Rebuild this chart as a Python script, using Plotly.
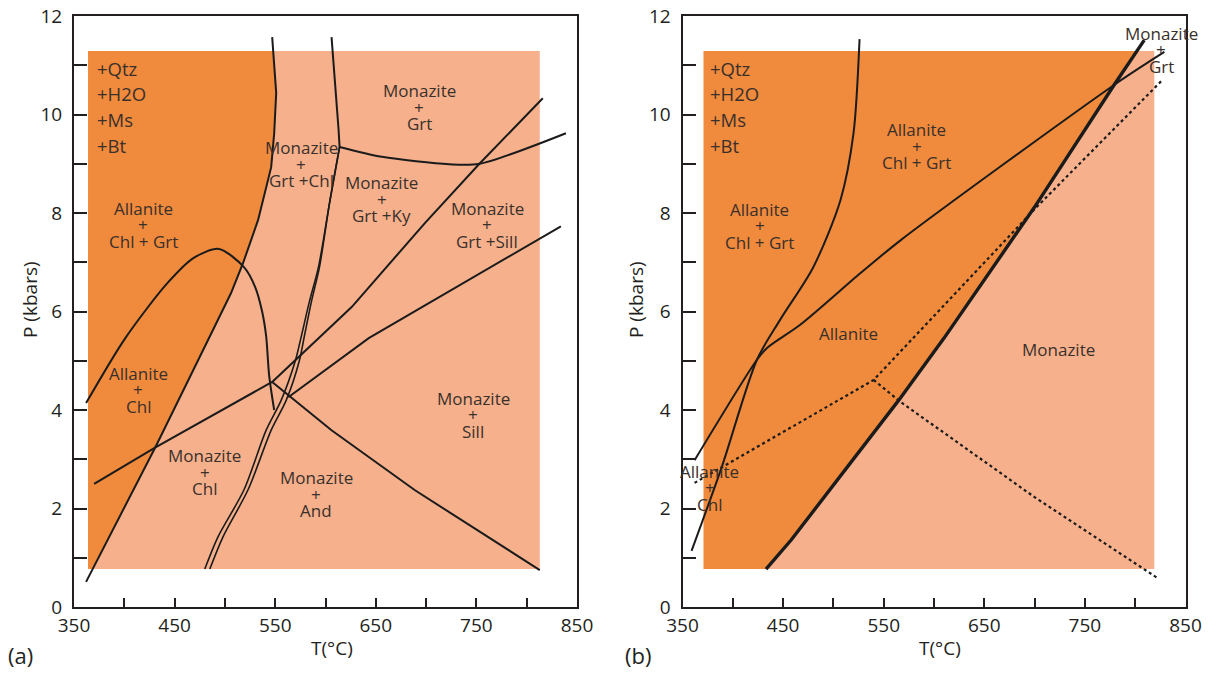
import numpy as np
import plotly.graph_objects as go

# ---------------- axes ----------------
T_RANGE = [350, 850]
P_RANGE = [0, 12]
x_tickvals = list(range(350, 851, 50))
x_ticktext = [str(v) if (v - 350) % 100 == 0 else "" for v in x_tickvals]
y_tickvals = list(range(0, 13))
y_ticktext = [str(v) if v % 2 == 0 else "" for v in y_tickvals]

# ---------------- panel (a) data ----------------
a_field_T = [364, 813]
a_field_P = [0.77, 11.29]

a_aln_T = [362, 431, 488, 506, 518, 533, 546, 549, 551, 549, 547]
a_aln_P = [0.51, 3.25, 5.62, 6.37, 6.98, 7.86, 8.93, 9.62, 10.44, 10.96, 11.57]

a_grt_T = [362, 401, 443, 469, 494, 519, 530, 537, 541, 544, 549]
a_grt_P = [4.14, 5.46, 6.58, 7.09, 7.27, 6.9, 6.5, 6.0, 5.5, 4.7, 4.0]

a_chl_T = [370, 431, 547]
a_chl_P = [2.5, 3.24, 4.57]

a_kysil_T = [547, 626, 699, 753, 816]
a_kysil_P = [4.57, 6.09, 7.8, 9.0, 10.33]

a_andsil_T = [547, 606, 689, 813]
a_andsil_P = [4.57, 3.59, 2.37, 0.75]

a_sill_T = [563, 643, 834]
a_sill_P = [4.26, 5.46, 7.73]

a_grtline_T = [614, 656, 723, 753, 839]
a_grtline_P = [9.34, 9.14, 8.99, 9.0, 9.62]

a_st1_T = [480, 493, 519, 541, 556, 570, 576, 584, 593, 604, 614]
a_st2_T = [485, 498, 523, 546, 561, 574, 579, 586, 594, 604, 614]
a_st_P = [0.77, 1.42, 2.38, 3.59, 4.2, 5.0, 5.5, 6.2, 6.9, 8.2, 9.34]

a_top_T = [614, 613, 606]
a_top_P = [9.34, 9.69, 11.57]

# ---------------- panel (b) data ----------------
b_field_T = [371, 819]
b_field_P = [0.77, 11.29]

b_mnz_T = [433, 458, 565, 610, 700, 779, 809]
b_mnz_P = [0.77, 1.36, 4.2, 5.46, 8.12, 10.6, 11.51]

b_e_T = [359, 389, 424, 447, 480, 507, 520, 526]
b_e_P = [1.14, 2.84, 5.02, 5.83, 6.9, 8.26, 9.62, 11.53]

b_f_T = [362, 424, 434, 467, 527, 567, 779, 829]
b_f_P = [2.98, 5.02, 5.26, 5.73, 6.78, 7.45, 10.6, 11.27]

b_g_T = [362, 540, 702, 827]
b_g_P = [2.52, 4.61, 8.12, 10.7]

b_h_T = [540, 567, 700, 822]
b_h_P = [4.61, 4.16, 2.23, 0.59]

# ---------------- labels ----------------
assemblage = ["+Qtz", "+H2O", "+Ms", "+Bt"]
a_labels = [
    (["Allanite", "+", "Chl + Grt"], 419, 8.1),
    (["Allanite", "+", "Chl"], 414, 4.75),
    (["Monazite", "+", "Chl"], 480, 3.07),
    (["Monazite", "+", "And"], 591, 2.62),
    (["Monazite", "+", "Grt +Chl"], 576, 9.32),
    (["Monazite", "+", "Grt"], 693, 10.48),
    (["Monazite", "+", "Grt +Ky"], 656, 8.61),
    (["Monazite", "+", "Grt +Sill"], 761, 8.1),
    (["Monazite", "+", "Sill"], 747, 4.24),
]
b_labels = [
    (["Allanite", "+", "Chl + Grt"], 427, 8.08),
    (["Allanite", "+", "Chl + Grt"], 583, 9.69),
    (["Allanite"], 515, 5.56),
    (["Monazite"], 724, 5.22),
    (["Monazite", "+", "Grt"], 826, 11.65),
    (["Allanite", "+", "Chl"], 377, 2.76),
]

DARK = "#F08A3C"
LIGHT = "#F6B08C"
INK = "#1b1b1b"
TXT = "#3a302b"
AXC = "#231f20"
FONT = "Open Sans"

# page offset compensation (browser body margin)
OFF = 8
W, H = 1215 - OFF, 675 - OFF


def px_x(x):
    return (x - OFF) / W


def px_y(y):
    return 1 - (y - OFF) / H


fig = go.Figure()


def dark_polygon(curve_T, curve_P, left_T, bot_P, top_P):
    Ttop = float(np.interp(top_P, curve_P, curve_T))
    Tbot = float(np.interp(bot_P, curve_P, curve_T))
    inner = [(t, p) for t, p in zip(curve_T, curve_P) if bot_P < p < top_P]
    xs = [left_T, left_T, Ttop] + [t for t, p in reversed(inner)] + [Tbot, left_T]
    ys = [bot_P, top_P, top_P] + [p for t, p in reversed(inner)] + [bot_P, bot_P]
    return xs, ys


def add_field(fT, fP, curve_T, curve_P, xa, ya):
    fig.add_trace(go.Scatter(
        x=[fT[0], fT[1], fT[1], fT[0], fT[0]],
        y=[fP[0], fP[0], fP[1], fP[1], fP[0]],
        fill="toself", fillcolor=LIGHT, mode="lines", line=dict(width=0),
        hoverinfo="skip", xaxis=xa, yaxis=ya))
    xs, ys = dark_polygon(curve_T, curve_P, fT[0], fP[0], fP[1])
    fig.add_trace(go.Scatter(
        x=xs, y=ys, fill="toself", fillcolor=DARK, mode="lines", line=dict(width=0),
        hoverinfo="skip", xaxis=xa, yaxis=ya))


def add_line(T, P, xa, ya, width=2.0, dash="solid", shape="linear"):
    fig.add_trace(go.Scatter(
        x=T, y=P, mode="lines",
        line=dict(color=INK, width=width, dash=dash, shape=shape, smoothing=0.8),
        hoverinfo="skip", xaxis=xa, yaxis=ya))


# panel (a)
add_field(a_field_T, a_field_P, a_aln_T, a_aln_P, "x", "y")
add_line(a_aln_T, a_aln_P, "x", "y")
add_line(a_grt_T, a_grt_P, "x", "y", shape="spline")
add_line(a_chl_T, a_chl_P, "x", "y")
add_line(a_kysil_T, a_kysil_P, "x", "y")
add_line(a_andsil_T, a_andsil_P, "x", "y")
add_line(a_sill_T, a_sill_P, "x", "y")
add_line(a_grtline_T, a_grtline_P, "x", "y", shape="spline")
add_line(a_st1_T, a_st_P, "x", "y", width=1.6, shape="spline")
add_line(a_st2_T, a_st_P, "x", "y", width=1.6, shape="spline")
add_line(a_top_T, a_top_P, "x", "y")

# panel (b)
add_field(b_field_T, b_field_P, b_mnz_T, b_mnz_P, "x2", "y2")
add_line(b_g_T, b_g_P, "x2", "y2", width=2.2, dash="dot")
add_line(b_h_T, b_h_P, "x2", "y2", width=2.2, dash="dot")
add_line(b_e_T, b_e_P, "x2", "y2", shape="spline")
add_line(b_f_T, b_f_P, "x2", "y2", shape="spline")
add_line(b_mnz_T, b_mnz_P, "x2", "y2", width=3.4)

annotations = []


def add_label(lines, T, P, xref, yref, size=17, dP=0.335):
    for i, s in enumerate(lines):
        annotations.append(dict(
            x=T, y=P - i * dP, xref=xref, yref=yref, text=s, showarrow=False,
            font=dict(family=FONT, size=size, color=TXT), xanchor="center", yanchor="middle"))


for lines, T, P in a_labels:
    add_label(lines, T, P, "x", "y")
for lines, T, P in b_labels:
    add_label(lines, T, P, "x2", "y2")

for i, s in enumerate(assemblage):
    annotations.append(dict(x=371, y=10.94 - i * 0.52, xref="x", yref="y", text=s,
                            showarrow=False, xanchor="left", yanchor="middle",
                            font=dict(family=FONT, size=18.5, color=TXT)))
    annotations.append(dict(x=375, y=10.94 - i * 0.52, xref="x2", yref="y2", text=s,
                            showarrow=False, xanchor="left", yanchor="middle",
                            font=dict(family=FONT, size=18.5, color=TXT)))

# axis titles and panel letters
for xr in [30, 636]:
    annotations.append(dict(x=px_x(xr), y=px_y(300), xref="paper", yref="paper",
                            text="P (kbars)", textangle=-90, showarrow=False,
                            xanchor="center", yanchor="middle",
                            font=dict(family=FONT, size=19, color=AXC)))
for xr in [332, 940]:
    annotations.append(dict(x=px_x(xr), y=px_y(648), xref="paper", yref="paper",
                            text="T(\u00b0C)", showarrow=False,
                            xanchor="center", yanchor="middle",
                            font=dict(family=FONT, size=19, color=AXC)))
for xr, s in [(20, "(a)"), (638, "(b)")]:
    annotations.append(dict(x=px_x(xr), y=px_y(655), xref="paper", yref="paper",
                            text=s, showarrow=False,
                            xanchor="center", yanchor="middle",
                            font=dict(family=FONT, size=22, color=AXC)))

ydom = [px_y(607), px_y(16)]


def xaxis(dom, anchor):
    return dict(domain=dom, anchor=anchor, range=T_RANGE, tickmode="array",
                tickvals=x_tickvals, ticktext=x_ticktext, ticks="inside", ticklen=9,
                tickwidth=2, tickcolor=AXC, showline=True, linecolor=AXC, linewidth=2,
                mirror=True, showgrid=False, zeroline=False, automargin=False,
                ticklabeloverflow="allow",
                tickfont=dict(family=FONT, size=19, color=AXC))


def yaxis(anchor):
    return dict(domain=ydom, anchor=anchor, range=P_RANGE, tickmode="array",
                tickvals=y_tickvals, ticktext=y_ticktext, ticks="inside", ticklen=13,
                tickwidth=2, tickcolor=AXC, showline=True, linecolor=AXC, linewidth=2,
                mirror=True, showgrid=False, zeroline=False, ticklabelstandoff=6,
                automargin=False, ticklabeloverflow="allow",
                tickfont=dict(family=FONT, size=19, color=AXC))


fig.update_layout(
    template="none",
    width=W, height=H,
    margin=dict(l=0, r=0, t=0, b=0, pad=0),
    paper_bgcolor="white", plot_bgcolor="white",
    showlegend=False,
    xaxis=xaxis([px_x(74), px_x(577)], "y"),
    yaxis=yaxis("x"),
    xaxis2=xaxis([px_x(682.5), px_x(1185.5)], "y2"),
    yaxis2=yaxis("x2"),
    annotations=annotations,
)

fig.write_html("out.html")
